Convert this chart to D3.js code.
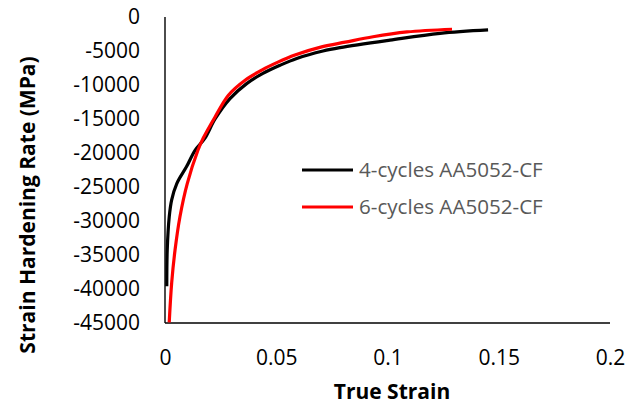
<!DOCTYPE html>
<html>
<head>
<meta charset="utf-8">
<script src="https://cdn.jsdelivr.net/npm/d3@7"></script>
<style>
  html, body { margin: 0; padding: 0; background: #fff; }
  svg { display: block; }
</style>
</head>
<body>
<svg id="chart" width="628" height="410"></svg>
<script>
// ---- data ----
const seriesNames = ["4-cycles AA5052-CF", "6-cycles AA5052-CF"];
const seriesColors = ["#000000", "#ff0000"];

const strain4 = [0.0008, 0.001, 0.0019, 0.003, 0.0053, 0.0097, 0.0135, 0.0178, 0.0225, 0.0292, 0.0367, 0.044, 0.0517, 0.0592, 0.071, 0.0787, 0.1011, 0.1236, 0.1452];
const rate4   = [-39600, -34300, -29400, -26900, -24500, -22000, -19600, -17900, -15000, -12000, -9800, -8300, -7100, -6100, -5000, -4500, -3400, -2400, -1900];

const strain6 = [0.0019, 0.003, 0.0045, 0.0067, 0.010, 0.0148, 0.0172, 0.0225, 0.0285, 0.036, 0.0435, 0.051, 0.0584, 0.0704, 0.081, 0.0935, 0.1088, 0.129];
const rate6   = [-44900, -39100, -34300, -29400, -24500, -19600, -17800, -14700, -11500, -9300, -7800, -6600, -5600, -4400, -3700, -2900, -2200, -1800];

const xTicks = [0, 0.05, 0.1, 0.15, 0.2];
const yTicks = [0, -5000, -10000, -15000, -20000, -25000, -30000, -35000, -40000, -45000];

// ---- layout ----
const svg = d3.select("#chart");
const mLeft = 165, mRight = 610, mTop = 17, mBottom = 323;
const x = d3.scaleLinear().domain([0, 0.2]).range([mLeft, mRight]);
const y = d3.scaleLinear().domain([-45000, 0]).range([mBottom, mTop]);

const font = "'Open Sans', sans-serif";

// y tick labels
const yAxis = d3.axisLeft(y).tickValues(yTicks).tickSize(0).tickPadding(25).tickFormat(d3.format("d"));
const gy = svg.append("g").attr("transform", `translate(${mLeft},0)`).call(yAxis);
gy.select(".domain").remove();
gy.selectAll("text").attr("font-family", font).attr("font-size", "21px").attr("fill", "#000").text(d => String(d));

// x tick labels
const xAxis = d3.axisBottom(x).tickValues(xTicks).tickSize(0).tickPadding(27).tickFormat(d => String(d));
const gx = svg.append("g").attr("transform", `translate(0,${mBottom})`).call(xAxis);
gx.select(".domain").remove();
gx.selectAll("text").attr("font-family", font).attr("font-size", "21px").attr("fill", "#000");

// axis lines
svg.append("line").attr("x1", x(0)).attr("x2", x(0)).attr("y1", y(0)).attr("y2", y(-45000))
  .attr("stroke", "#000").attr("stroke-width", 1.4);
svg.append("line").attr("x1", x(0)).attr("x2", x(0.2)).attr("y1", y(-45000)).attr("y2", y(-45000))
  .attr("stroke", "#000").attr("stroke-width", 1.4);

// curves
const line = d3.line().x(d => x(d[0])).y(d => y(d[1])).curve(d3.curveCatmullRom.alpha(0.5));
const data4 = strain4.map((s, i) => [s, rate4[i]]);
const data6 = strain6.map((s, i) => [s, rate6[i]]);
[data4, data6].forEach((d, i) => {
  svg.append("path").datum(d).attr("d", line).attr("fill", "none")
    .attr("stroke", seriesColors[i]).attr("stroke-width", 3.2)
    .attr("stroke-linejoin", "round").attr("stroke-linecap", "butt");
});

// legend
const legY = [170, 207];
seriesNames.forEach((name, i) => {
  svg.append("line").attr("x1", 302).attr("x2", 353).attr("y1", legY[i]).attr("y2", legY[i])
    .attr("stroke", seriesColors[i]).attr("stroke-width", 3.2);
  svg.append("text").attr("x", 359).attr("y", legY[i]).attr("dy", "0.35em")
    .attr("font-family", font).attr("font-size", "20.6px").attr("fill", "#595959").text(name);
});

// axis titles
svg.append("text").attr("x", 392).attr("y", 399).attr("text-anchor", "middle")
  .attr("font-family", font).attr("font-weight", "bold").attr("font-size", "21px").attr("fill", "#000")
  .text("True Strain");
svg.append("text").attr("transform", "translate(35,205) rotate(-90)").attr("text-anchor", "middle")
  .attr("font-family", font).attr("font-weight", "bold").attr("font-size", "21px").attr("fill", "#000")
  .text("Strain Hardening Rate (MPa)");
</script>
</body>
</html>
